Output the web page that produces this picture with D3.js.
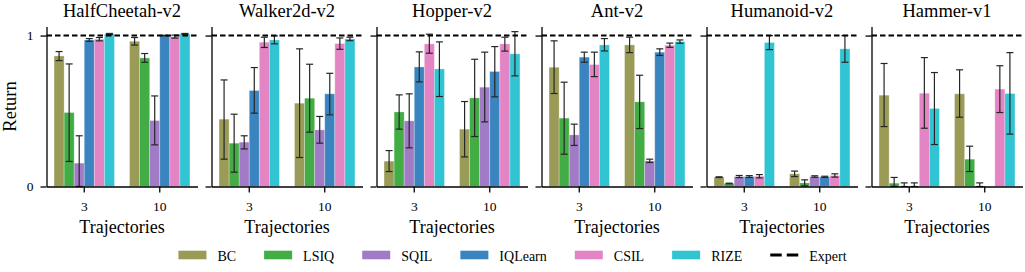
<!DOCTYPE html>
<html>
<head>
<meta charset="utf-8">
<script src="https://cdn.jsdelivr.net/npm/d3@7"></script>
<style>
  body { margin: 0; background: #fff; }
  svg { display: block; font-family: "Liberation Serif", "DejaVu Serif", serif; }
</style>
</head>
<body>
<svg id="chart" width="1025" height="272"></svg>
<script>
// data: [group "3", group "10"] x [BC, LSIQ, SQIL, IQLearn, CSIL, RIZE]
const envNames = ['HalfCheetah-v2', 'Walker2d-v2', 'Hopper-v2', 'Ant-v2', 'Humanoid-v2', 'Hammer-v1'];
const trajectories = ['3', '10'];
const methods = ['BC', 'LSIQ', 'SQIL', 'IQLearn', 'CSIL', 'RIZE'];
const methodColors = ['#9a9b56', '#42ad45', '#a17bc6', '#3a85bf', '#e385c5', '#31c4d3'];
const yTicks = [0, 1];

const halfCheetahMean = [[0.865, 0.49, 0.155, 0.971, 0.976, 1.011], [0.962, 0.852, 0.437, 1.0, 0.993, 1.011]];
const halfCheetahLo = [[0.834, 0.166, 0.0, 0.962, 0.965, 1.007], [0.937, 0.823, 0.276, 0.998, 0.983, 1.008]];
const halfCheetahHi = [[0.894, 0.812, 0.336, 0.98, 0.987, 1.014], [0.987, 0.881, 0.6, 1.002, 1.003, 1.014]];

const walkerMean = [[0.446, 0.287, 0.294, 0.636, 0.956, 0.971], [0.552, 0.585, 0.375, 0.614, 0.947, 0.978]];
const walkerLo = [[0.181, 0.095, 0.249, 0.486, 0.921, 0.945], [0.192, 0.36, 0.287, 0.475, 0.909, 0.966]];
const walkerHi = [[0.706, 0.479, 0.336, 0.788, 0.989, 0.998], [0.912, 0.81, 0.464, 0.75, 0.984, 0.989]];

const hopperMean = [[0.168, 0.494, 0.435, 0.792, 0.945, 0.779], [0.38, 0.587, 0.658, 0.762, 0.945, 0.879]];
const hopperLo = [[0.099, 0.38, 0.256, 0.693, 0.883, 0.596], [0.196, 0.331, 0.428, 0.594, 0.897, 0.733]];
const hopperHi = [[0.238, 0.607, 0.614, 0.892, 1.009, 0.958], [0.563, 0.843, 0.89, 0.927, 0.989, 1.026]];

const antMean = [[0.79, 0.453, 0.342, 0.857, 0.808, 0.938], [0.938, 0.561, 0.17, 0.89, 0.936, 0.96]];
const antLo = [[0.616, 0.214, 0.272, 0.823, 0.728, 0.898], [0.887, 0.384, 0.159, 0.868, 0.922, 0.949]];
const antHi = [[0.965, 0.691, 0.413, 0.89, 0.89, 0.98], [0.989, 0.737, 0.181, 0.912, 0.95, 0.971]];

const humanoidMean = [[0.062, 0.02, 0.066, 0.066, 0.068, 0.954], [0.084, 0.024, 0.066, 0.064, 0.073, 0.912]];
const humanoidLo = [[0.06, 0.018, 0.059, 0.06, 0.057, 0.907], [0.066, 0.004, 0.061, 0.06, 0.062, 0.823]];
const humanoidHi = [[0.064, 0.022, 0.073, 0.072, 0.079, 1.0], [0.102, 0.044, 0.071, 0.068, 0.084, 1.0]];

const hammerMean = [[0.605, 0.022, 0.003, 0.003, 0.618, 0.517], [0.614, 0.181, 0.003, 0, 0.645, 0.616]];
const hammerLo = [[0.397, 0.0, 0.0, 0.0, 0.386, 0.278], [0.459, 0.099, 0.0, 0, 0.49, 0.347]];
const hammerHi = [[0.815, 0.06, 0.024, 0.024, 0.854, 0.755], [0.773, 0.267, 0.024, 0, 0.8, 0.887]];

const expertReturn = 1;

const envData = [
  [halfCheetahMean, halfCheetahLo, halfCheetahHi],
  [walkerMean, walkerLo, walkerHi],
  [hopperMean, hopperLo, hopperHi],
  [antMean, antLo, antHi],
  [humanoidMean, humanoidLo, humanoidHi],
  [hammerMean, hammerLo, hammerHi]
];

const svg = d3.select('#chart');
const panelLeft = 46.5;
const panelStep = 165;
const panelWidth = 151;
const plotTop = 26.5;
const plotBottom = 186.5;
const serif = '"Liberation Serif", "DejaVu Serif", serif';

const y = d3.scaleLinear().domain([0, 1.06]).range([plotBottom, plotTop]);

envNames.forEach((name, i) => {
  const [mean, lo, hi] = envData[i];
  const x0 = d3.scaleBand()
    .domain(trajectories)
    .range([0, panelWidth])
    .paddingInner(0.2)
    .paddingOuter(0.1);
  const x1 = d3.scaleBand()
    .domain(methods)
    .range([0, x0.bandwidth()]);

  const g = svg.append('g')
    .attr('transform', 'translate(' + (panelLeft + i * panelStep) + ',0)');

  const rows = [];
  trajectories.forEach((t, gi) => {
    methods.forEach((m, mi) => {
      rows.push({t, m, mi, v: mean[gi][mi], lo: lo[gi][mi], hi: hi[gi][mi]});
    });
  });

  g.selectAll('.bar')
    .data(rows)
    .enter()
    .append('rect')
    .attr('class', 'bar')
    .attr('x', d => x0(d.t) + x1(d.m))
    .attr('y', d => y(d.v))
    .attr('width', x1.bandwidth())
    .attr('height', d => y(0) - y(d.v))
    .attr('fill', d => methodColors[d.mi])
    .attr('stroke', '#fff')
    .attr('stroke-opacity', 0.35)
    .attr('stroke-width', 0.8);

  const errRows = rows.filter(d => d.hi > d.lo);
  const cap = 3.5;
  const cx = d => x0(d.t) + x1(d.m) + x1.bandwidth() / 2;
  const err = g.selectAll('.err')
    .data(errRows)
    .enter()
    .append('g')
    .attr('class', 'err')
    .attr('stroke', '#262626')
    .attr('stroke-width', 1.2);
  err.append('line')
    .attr('x1', cx).attr('x2', cx)
    .attr('y1', d => y(d.lo)).attr('y2', d => y(d.hi));
  err.append('line')
    .attr('x1', d => cx(d) - cap).attr('x2', d => cx(d) + cap)
    .attr('y1', d => y(d.lo)).attr('y2', d => y(d.lo));
  err.append('line')
    .attr('x1', d => cx(d) - cap).attr('x2', d => cx(d) + cap)
    .attr('y1', d => y(d.hi)).attr('y2', d => y(d.hi));

  // expert reference
  g.append('line')
    .attr('x1', 0).attr('x2', panelWidth)
    .attr('y1', y(expertReturn)).attr('y2', y(expertReturn))
    .attr('stroke', '#000')
    .attr('stroke-width', 2)
    .attr('stroke-dasharray', '5.5,3');

  const xAxis = g.append('g')
    .attr('transform', 'translate(0,' + plotBottom + ')')
    .call(d3.axisBottom(x0).tickSize(6).tickSizeOuter(0).tickPadding(9));
  const yAxis = g.append('g')
    .call(d3.axisLeft(y).tickValues(yTicks).tickSize(6).tickSizeOuter(0).tickPadding(7)
      .tickFormat(i === 0 ? d3.format('d') : () => ''));

  [xAxis, yAxis].forEach(a => {
    a.attr('font-family', serif).attr('font-size', 13.5);
    a.select('.domain').attr('stroke', '#000').attr('stroke-width', 1.3);
    a.selectAll('.tick line').attr('stroke', '#000').attr('stroke-width', 1.3);
    a.selectAll('.tick text').attr('fill', '#000');
  });

  g.append('text')
    .attr('x', panelWidth / 2)
    .attr('y', 17.3)
    .attr('text-anchor', 'middle')
    .attr('font-size', 18.5)
    .text(name);

  g.append('text')
    .attr('x', panelWidth / 2)
    .attr('y', 232.5)
    .attr('text-anchor', 'middle')
    .attr('font-size', 18)
    .text('Trajectories');
});

svg.append('text')
  .attr('transform', 'translate(15.5,' + ((plotTop + plotBottom) / 2) + ') rotate(-90)')
  .attr('text-anchor', 'middle')
  .attr('font-size', 18.5)
  .text('Return');

// legend, centred under the figure
const legend = svg.append('g');
const legendItems = methods.map((m, i) => ({label: m, color: methodColors[i]}))
  .concat([{label: 'Expert', dashed: true}]);
let lx = 0;
legendItems.forEach(item => {
  const it = legend.append('g').attr('transform', 'translate(' + lx + ',0)');
  if (item.dashed) {
    it.append('line')
      .attr('x1', 0).attr('x2', 28)
      .attr('y1', 255).attr('y2', 255)
      .attr('stroke', '#000')
      .attr('stroke-width', 2.8)
      .attr('stroke-dasharray', '11.5,5');
  } else {
    it.append('rect')
      .attr('x', 0).attr('y', 250.7)
      .attr('width', 28).attr('height', 8.6)
      .attr('fill', item.color);
  }
  const txt = it.append('text')
    .attr('x', 39)
    .attr('y', 261)
    .attr('font-size', 14)
    .text(item.label);
  lx += 39 + txt.node().getComputedTextLength() + 28;
});
const legendWidth = lx - 28;
legend.attr('transform', 'translate(' + (512.5 - legendWidth / 2) + ',0)');
</script>
</body>
</html>
